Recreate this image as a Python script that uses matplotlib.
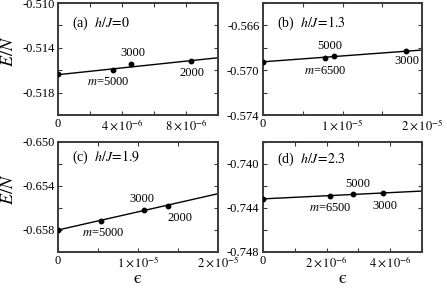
import matplotlib
matplotlib.use("Agg")
import matplotlib.pyplot as plt
import numpy as np

plt.rcParams['font.family'] = ['Liberation Serif', 'DejaVu Serif']
plt.rcParams['mathtext.fontset'] = 'stix'

# ---- data ----
titles = ['(a)  $h/J\\!=\\!0$', '(b)  $h/J\\!=\\!1.3$', '(c)  $h/J\\!=\\!1.9$', '(d)  $h/J\\!=\\!2.3$']

eps_a = [0.0, 3.42e-6, 4.56e-6, 8.29e-6]
E_a = [-0.51634, -0.51598, -0.51548, -0.51518]
fit_a = [-0.5164, -0.51489]
lab_a = ['', '$m$=5000', '3000', '2000']

eps_b = [0.0, 7.8e-6, 8.93e-6, 1.795e-5]
E_b = [-0.56923, -0.56893, -0.56873, -0.56828]
fit_b = [-0.56925, -0.5682]
lab_b = ['', '$m$=6500', '5000', '3000']

eps_c = [0.0, 5.33e-6, 1.075e-5, 1.38e-5]
E_c = [-0.6580, -0.65717, -0.65618, -0.65578]
fit_c = [-0.6580, -0.6547]
lab_c = ['', '$m$=5000', '3000', '2000']

eps_d = [0.0, 2.11e-6, 2.84e-6, 3.78e-6]
E_d = [-0.74317, -0.74290, -0.74269, -0.74266]
fit_d = [-0.74317, -0.74246]
lab_d = ['', '$m$=6500', '5000', '3000']

xlim_all = [(0, 1e-5), (0, 2e-5), (0, 2e-5), (0, 5e-6)]
ylim_all = [(-0.520, -0.510), (-0.574, -0.564), (-0.660, -0.650), (-0.748, -0.738)]

xticks_all = [[0, 2e-6, 4e-6, 6e-6, 8e-6, 1e-5],
              [0, 5e-6, 1e-5, 1.5e-5, 2e-5],
              [0, 5e-6, 1e-5, 1.5e-5, 2e-5],
              [0, 1e-6, 2e-6, 3e-6, 4e-6, 5e-6]]
xticklabels_all = [['0', '', r'$4\times10^{-6}$', '', r'$8\times10^{-6}$', ''],
                   ['0', '', r'$1\times10^{-5}$', '', r'$2\times10^{-5}$'],
                   ['0', '', r'$1\times10^{-5}$', '', r'$2\times10^{-5}$'],
                   ['0', '', r'$2\times10^{-6}$', '', r'$4\times10^{-6}$', '']]
yticks_all = [[-0.520, -0.518, -0.516, -0.514, -0.512, -0.510],
              [-0.574, -0.572, -0.570, -0.568, -0.566, -0.564],
              [-0.660, -0.658, -0.656, -0.654, -0.652, -0.650],
              [-0.748, -0.746, -0.744, -0.742, -0.740, -0.738]]
yticklabels_all = [['', '-0.518', '', '-0.514', '', '-0.510'],
                   ['-0.574', '', '-0.570', '', '-0.566', ''],
                   ['', '-0.658', '', '-0.654', '', '-0.650'],
                   ['-0.748', '', '-0.744', '', '-0.740', '']]

# ---- styling / layout ----
W, H = 447, 293
fig = plt.figure(figsize=(W / 100, H / 100), dpi=100)
rects = [
    [58 / W, 1 - 115 / H, 160 / W, 112 / H],
    [263 / W, 1 - 115 / H, 159 / W, 112 / H],
    [58 / W, 1 - 252 / H, 160 / W, 110 / H],
    [263 / W, 1 - 252 / H, 159 / W, 110 / H],
]
title_pos = [(0.085, 0.82), (0.09, 0.82), (0.085, 0.86), (0.085, 0.84)]
# label offsets in points for the annotated points (index 1..3)
offsets = [
    [None, (-3, -9), (1.5, 8.5), (1, -8.5)],
    [None, (0, -9.5), (-3, 7.5), (1, -7.5)],
    [None, (2, -9), (-1.5, 8), (8, -9)],
    [None, (0, -8.5), (3.5, 7), (1.2, -9)],
]

datasets = [(eps_a, E_a, fit_a, lab_a), (eps_b, E_b, fit_b, lab_b),
            (eps_c, E_c, fit_c, lab_c), (eps_d, E_d, fit_d, lab_d)]

spine_col = '#3a3a3a'
for i, (eps, E, fit, labs) in enumerate(datasets):
    ax = fig.add_axes(rects[i])
    ax.set_xlim(*xlim_all[i])
    ax.set_ylim(*ylim_all[i])
    ax.plot(xlim_all[i], fit, color='black', lw=1.0, zorder=2)
    ax.plot(eps, E, 'o', color='black', ms=3.2, zorder=3)
    for j, lab in enumerate(labs):
        if lab:
            ax.annotate(lab, (eps[j], E[j]), xytext=offsets[i][j],
                        textcoords='offset points', ha='center', va='center',
                        fontsize=9)
    ax.set_xticks(xticks_all[i])
    ax.set_xticklabels(xticklabels_all[i])
    ax.set_yticks(yticks_all[i])
    ax.set_yticklabels(yticklabels_all[i])
    ax.tick_params(direction='in', top=True, right=True, length=3.2, width=0.8,
                   color=spine_col, labelsize=9, pad=2.5)
    for s in ax.spines.values():
        s.set_color(spine_col)
        s.set_linewidth(1.4)
    ax.text(title_pos[i][0], title_pos[i][1], titles[i], transform=ax.transAxes,
            ha='left', va='center', fontsize=10)
    if i in (0, 2):
        ax.set_ylabel('$E/N$', fontsize=13)
        ax.yaxis.set_label_coords(-0.255, 0.57)
    if i in (2, 3):
        ax.set_xlabel('$\\mathrm{\u03f5}$', fontsize=13)
        ax.xaxis.set_label_coords(0.5, -0.165)

fig.savefig('out.png', dpi=100)
